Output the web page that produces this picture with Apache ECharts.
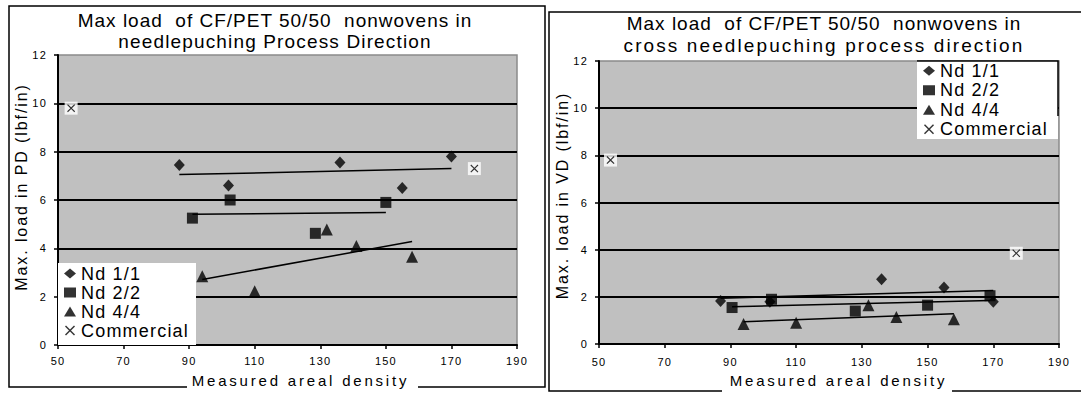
<!DOCTYPE html>
<html>
<head>
<meta charset="utf-8">
<script src="https://cdn.jsdelivr.net/npm/echarts@6/dist/echarts.min.js"></script>
<style>
  html, body { margin: 0; padding: 0; background: #fff; }
  #chart { width: 1081px; height: 394px; }
  #chart text { letter-spacing: 1.2px; white-space: pre; }
</style>
</head>
<body>
<div id="chart"></div>
<script>
// Axis ranges
const xMin = 50, xMax = 190, xStep = 20;
const yMin = 0, yMax = 12, yStep = 2;
const seriesNames = ['Nd 1/1', 'Nd 2/2', 'Nd 4/4', 'Commercial'];

// Process direction (PD): areal density vs max load (lbf/in)
const pdNd11X = [87, 102, 136, 155, 170];
const pdNd11Y = [7.45, 6.6, 7.55, 6.5, 7.8];
const pdNd22X = [91, 102.5, 128.5, 150];
const pdNd22Y = [5.25, 6.0, 4.62, 5.9];
const pdNd44X = [94, 110, 132, 141, 158];
const pdNd44Y = [2.85, 2.22, 4.78, 4.1, 3.65];
const pdCommX = [54, 177];
const pdCommY = [9.8, 7.3];

// Cross direction (VD)
const vdNd11X = [87, 102, 136, 155, 170];
const vdNd11Y = [1.83, 1.8, 2.75, 2.4, 1.8];
const vdNd22X = [90.5, 102.5, 128, 150, 169];
const vdNd22Y = [1.55, 1.9, 1.4, 1.65, 2.05];
const vdNd44X = [94, 110, 132, 140.5, 158];
const vdNd44Y = [0.85, 0.9, 1.65, 1.15, 1.05];
const vdCommX = [53.5, 177];
const vdCommY = [7.8, 3.85];

const titlePD = ['Max load  of CF/PET 50/50  nonwovens in', 'needlepuching Process Direction'];
const titleVD = ['Max load  of CF/PET 50/50  nonwovens in', 'cross needlepuching process direction'];
const xName = 'Measured areal density';
const yNamePD = 'Max. load in PD (lbf/in)';
const yNameVD = 'Max. load in VD (lbf/in)';

const FONT = 'Liberation Sans, Arial, sans-serif';
const crossPath = 'path://M0,1L1,0L5,4L9,0L10,1L6,5L10,9L9,10L5,6L1,10L0,9L4,5Z';

function pairs(xs, ys) { return xs.map((x, i) => [x, ys[i]]); }

// Least-squares linear trend over a series, spanning its own x range
function trend(xs, ys) {
  const n = xs.length;
  const mx = xs.reduce((a, b) => a + b, 0) / n;
  const my = ys.reduce((a, b) => a + b, 0) / n;
  let sxy = 0, sxx = 0;
  for (let i = 0; i < n; i++) { sxy += (xs[i] - mx) * (ys[i] - my); sxx += (xs[i] - mx) ** 2; }
  const k = sxy / sxx, b = my - k * mx;
  const x0 = Math.min(...xs), x1 = Math.max(...xs);
  return [[x0, k * x0 + b], [x1, k * x1 + b]];
}

function xAxis(gridIndex, gap, shift, labelMargin) {
  return {
    type: 'value', gridIndex, min: xMin, max: xMax, interval: xStep,
    name: xName, nameLocation: 'middle', nameGap: gap,
    nameTextStyle: { fontFamily: FONT, fontSize: 15, lineHeight: 17, color: '#000', padding: [0, 0, 0, shift] },
    axisLine: { show: true, onZero: false, lineStyle: { color: '#000', width: 2 } },
    axisTick: { show: true, length: 4, lineStyle: { color: '#000', width: 1.5 } },
    axisLabel: { fontFamily: FONT, fontSize: 11, color: '#000', margin: labelMargin },
    splitLine: { show: false }
  };
}
function yAxis(gridIndex, name, gap, shift) {
  return {
    type: 'value', gridIndex, min: yMin, max: yMax, interval: yStep,
    name, nameLocation: 'middle', nameGap: gap,
    nameTextStyle: { fontFamily: FONT, fontSize: 16, lineHeight: 18, color: '#000', padding: [0, 0, 0, shift] },
    axisLine: { show: true, lineStyle: { color: '#000', width: 2 } },
    axisTick: { show: true, length: 4, lineStyle: { color: '#000', width: 1.5 } },
    axisLabel: { fontFamily: FONT, fontSize: 11, color: '#000', margin: 11 },
    splitLine: { show: true, showMaxLine: false, lineStyle: { color: '#000', width: 2 } }
  };
}

function panelSeries(idx, d) {
  const ax = { xAxisIndex: idx, yAxisIndex: idx };
  const trendStyle = { color: '#000', width: 1.5 };
  return [
    Object.assign({ type: 'line', name: 'fit11', data: trend(d.x11, d.y11), symbol: 'none', silent: true, lineStyle: trendStyle, z: 2 }, ax),
    Object.assign({ type: 'line', name: 'fit22', data: trend(d.x22, d.y22), symbol: 'none', silent: true, lineStyle: trendStyle, z: 2 }, ax),
    Object.assign({ type: 'line', name: 'fit44', data: trend(d.x44, d.y44), symbol: 'none', silent: true, lineStyle: trendStyle, z: 2 }, ax),
    Object.assign({ type: 'scatter', name: 'Nd 1/1', data: pairs(d.x11, d.y11), symbol: 'diamond', symbolSize: [11, 12], itemStyle: { color: '#000' }, z: 3 }, ax),
    Object.assign({ type: 'scatter', name: 'Nd 2/2', data: pairs(d.x22, d.y22), symbol: 'rect', symbolSize: 11, itemStyle: { color: '#000' }, z: 3 }, ax),
    Object.assign({ type: 'scatter', name: 'Nd 4/4', data: pairs(d.x44, d.y44), symbol: 'triangle', symbolSize: 12, itemStyle: { color: '#000' }, z: 3 }, ax),
    Object.assign({ type: 'scatter', name: 'commercialBox', data: pairs(d.xc, d.yc), symbol: 'rect', symbolSize: 13, itemStyle: { color: '#fff' }, silent: true, z: 3 }, ax),
    Object.assign({ type: 'scatter', name: 'Commercial', data: pairs(d.xc, d.yc), symbol: crossPath, symbolSize: 8, itemStyle: { color: '#000' }, z: 4 }, ax)
  ];
}

function legend(left, top, padding, lineHeight) {
  return {
    data: seriesNames, orient: 'vertical', left, top, padding, itemGap: 0,
    itemWidth: 12, itemHeight: 10, backgroundColor: '#fff', selectedMode: false,
    textStyle: { fontFamily: FONT, fontSize: 18, lineHeight, color: '#000' }, z: 6
  };
}

function title(left, top, lines, gap) {
  return {
    text: lines[0], subtext: lines[1], left, top, textAlign: 'center', padding: 0, itemGap: gap,
    textStyle: { fontFamily: FONT, fontSize: 19, lineHeight: 21, fontWeight: 'normal', color: '#000' },
    subtextStyle: { fontFamily: FONT, fontSize: 19, lineHeight: 21, color: '#000' }
  };
}

const border = { stroke: '#000', lineWidth: 1.5, fill: null };

const option = {
  animation: false,
  backgroundColor: '#fff',
  title: [title(275, 10, titlePD, 0), title(824, 13, titleVD, 1)],
  legend: [legend(58, 263, [1, 19, 5, 6], 19), legend(917, 61, [0, 22, 0, 6], 19.5)],
  grid: [
    { left: 58, top: 55, width: 459, height: 291, show: true, backgroundColor: '#c0c0c0', borderColor: '#8a8a8a', borderWidth: 1.5 },
    { left: 599, top: 61, width: 460, height: 288, show: true, backgroundColor: '#c0c0c0', borderColor: '#8a8a8a', borderWidth: 1.5 }
  ],
  xAxis: [xAxis(0, 27, 26, 10), xAxis(1, 26, 19, 12)],
  yAxis: [yAxis(0, yNamePD, 24, 26), yAxis(1, yNameVD, 27, 14)],
  series: [
    ...panelSeries(0, { x11: pdNd11X, y11: pdNd11Y, x22: pdNd22X, y22: pdNd22Y, x44: pdNd44X, y44: pdNd44Y, xc: pdCommX, yc: pdCommY }),
    ...panelSeries(1, { x11: vdNd11X, y11: vdNd11Y, x22: vdNd22X, y22: vdNd22Y, x44: vdNd44X, y44: vdNd44Y, xc: vdCommX, yc: vdCommY })
  ],
  graphic: [
    { type: 'polyline', z: 1, shape: { points: [[187, 387], [9, 387], [9, 6], [545, 6], [545, 387], [418, 387]] }, style: border },
    { type: 'polyline', z: 1, shape: { points: [[722, 391], [549, 391], [549, 12], [1095, 12]] }, style: border },
    { type: 'line', z: 1, shape: { x1: 952, y1: 391, x2: 1095, y2: 391 }, style: border },
    { type: 'polyline', z: 10, shape: { points: [[917, 61], [1058, 61], [1058, 116]] }, style: border }
  ]
};

const dom = document.getElementById('chart');
const chart = echarts.init(dom, null, { renderer: 'svg' });

// Wider tracking for the titles, as in the spreadsheet rendering
const tracking = {
  'Measured areal density': 2.8,
  'Max. load in PD (lbf/in)': 1.9,
  'Max. load in VD (lbf/in)': 1.9,
  'Max load  of CF/PET 50/50  nonwovens in': 1,
  'needlepuching Process Direction': 1.15,
  'cross needlepuching process direction': 2.1
};
function applyTracking() {
  dom.querySelectorAll('text').forEach(t => {
    const s = tracking[t.textContent];
    if (s != null) t.style.letterSpacing = s + 'px';
  });
}
chart.on('finished', applyTracking);
chart.setOption(option);
applyTracking();
</script>
</body>
</html>
